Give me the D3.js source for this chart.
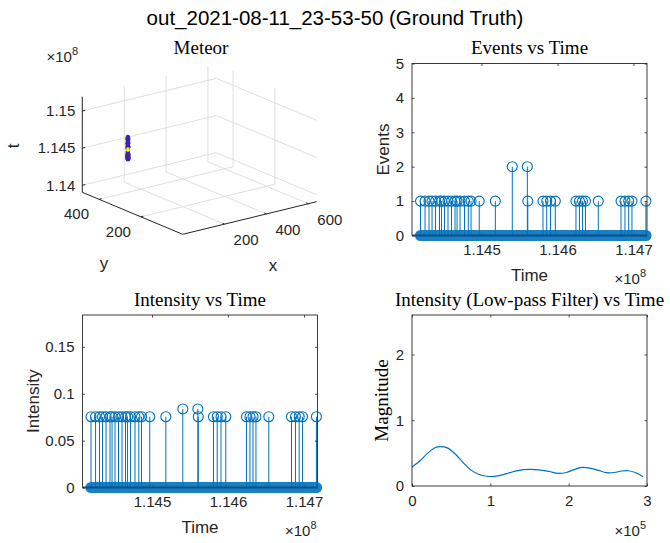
<!DOCTYPE html>
<html>
<head>
<meta charset="utf-8">
<script src="https://cdn.jsdelivr.net/npm/d3@7"></script>
<style>
  body { margin: 0; background: #fff; }
  svg { display: block; }
  .sans { font-family: "Liberation Sans", Arial, Helvetica, sans-serif; }
  .serif { font-family: "Liberation Serif", "Times New Roman", serif; }
</style>
</head>
<body>
<svg id="fig" width="670" height="543"></svg>
<script>
// ---------------- data ----------------
const figureTitle = "out_2021-08-11_23-53-50 (Ground Truth)";

// detected events: timestamp, number of events, summed intensity, pixel position
const eventTime = [
  114419700, 114425700, 114430900, 114434900, 114439500, 114444700, 114447400,
  114451300, 114455900, 114460500, 114465100, 114467800, 114471700, 114477600,
  114482600, 114486200, 114497000, 114518200, 114540500, 114560300, 114560900,
  114580900, 114585800, 114590800, 114597100, 114624300, 114628900, 114632900,
  114636800, 114653700, 114683600, 114688800, 114693700, 114698000, 114716400
];
const eventCount = [
  1, 1, 1, 1, 1, 1, 1, 1, 1, 1, 1, 1, 1, 1, 1, 1, 1, 1, 2, 2, 1,
  1, 1, 1, 1, 1, 1, 1, 1, 1, 1, 1, 1, 1, 1
];
const eventIntensity = [
  0.0755, 0.0755, 0.0755, 0.0755, 0.0755, 0.0755, 0.0755, 0.0755, 0.0755, 0.0755,
  0.0755, 0.0755, 0.0755, 0.0755, 0.0755, 0.0755, 0.0755, 0.0755, 0.0838, 0.0838,
  0.0755, 0.0755, 0.0755, 0.0755, 0.0755, 0.0755, 0.0755, 0.0755, 0.0755, 0.0755,
  0.0755, 0.0755, 0.0755, 0.0755, 0.0755
];
const eventX = [
  101, 101, 102, 101, 100, 101, 101, 102, 101, 101, 100, 101, 101, 102, 101, 101, 101, 100,
  101, 101, 101, 102, 101, 101, 100, 101, 101, 101, 102, 101, 101, 100, 101, 101, 101
];
const eventY = [
  363, 363, 362, 363, 364, 363, 363, 363, 362, 363, 363, 364, 363, 363, 363, 362, 363, 363,
  363, 363, 364, 363, 363, 362, 363, 363, 363, 364, 363, 363, 362, 363, 363, 363, 363
];

// span of the zero-valued samples between events
const sampleStart = 114419700;
const sampleEnd = 114716500;

// time axes
const timeLimits = [114408500, 114717800];
const timeTicks = [114500000, 114600000, 114700000];
const timeTickLabels = ["1.145", "1.146", "1.147"];

const eventLimits = [0, 5];
const eventTicks = [0, 1, 2, 3, 4, 5];

const intensityLimits = [0, 0.184];
const intensityTicks = [0, 0.05, 0.1, 0.15];
const intensityTickLabels = ["0", "0.05", "0.1", "0.15"];

// low-pass filtered intensity
const lowpassTime = [
  0, 10000, 20000, 30000, 36000, 45000, 55000, 65000, 75000, 85000, 95000, 105000,
  115000, 125000, 135000, 150000, 162000, 175000, 187000, 197000, 207000, 217000,
  227000, 238000, 248000, 258000, 268000, 276000, 285000, 295000
];
const lowpassMagnitude = [
  0.29, 0.38, 0.50, 0.585, 0.60, 0.58, 0.49, 0.36, 0.245, 0.178, 0.148, 0.147,
  0.168, 0.203, 0.235, 0.252, 0.245, 0.22, 0.192, 0.205, 0.25, 0.282, 0.272,
  0.237, 0.203, 0.205, 0.228, 0.232, 0.205, 0.142
];
const lowpassLimits = [0, 300000];
const lowpassTicks = [0, 100000, 200000, 300000];
const lowpassTickLabels = ["0", "1", "2", "3"];
const magnitudeLimits = [0, 2.6];
const magnitudeTicks = [0, 1, 2];

// 3-D meteor view
const meteorXLimits = [0, 640];
const meteorYLimits = [0, 480];
const meteorTLimits = [113906000, 115192000];
const meteorXTicks = [200, 400, 600];
const meteorYTicks = [200, 400];
const meteorTTicks = [114000000, 114500000, 115000000];
const meteorTTickLabels = ["1.14", "1.145", "1.15"];

// ---------------- styles ----------------
const AX = "#262626";
const BLUE = "#0072BD";
const GRID = "#dfdfdf";
const TICK_FS = 15;
const LABEL_FS = 17;
const TITLE_FS = 19;
const TL = 2.5;      // tick length
const MR = 5;        // stem marker radius

const svg = d3.select("#fig");

// figure title
svg.append("text").attr("class", "sans")
  .attr("x", 335).attr("y", 25)
  .attr("text-anchor", "middle")
  .attr("font-size", 20.5).attr("fill", "#000")
  .text(figureTitle);

function exponentLabel(g, xRight, yBase, exp) {
  const t = g.append("text").attr("class", "sans")
    .attr("x", xRight).attr("y", yBase)
    .attr("text-anchor", "end")
    .attr("font-size", TICK_FS).attr("fill", AX);
  t.append("tspan").text("\u00d710");
  t.append("tspan").attr("dy", -7).attr("font-size", 11).text(exp);
}

function styleAxis(g) {
  g.select(".domain").remove();
  g.selectAll(".tick line").attr("stroke", AX).attr("stroke-width", 0.8);
  g.selectAll(".tick text").attr("class", "sans").attr("font-size", TICK_FS).attr("fill", AX);
}

// A 2-D axes frame with inward ticks on all four sides
function frame(box, xs, ys, xTicks, xLabels, yTicks, yLabels) {
  const g = svg.append("g");
  const bottom = g.append("g").attr("transform", `translate(0,${box.y + box.h})`)
    .call(d3.axisBottom(xs).tickValues(xTicks)
      .tickFormat((d, i) => xLabels[i]).tickSizeInner(-TL).tickSizeOuter(0).tickPadding(9));
  styleAxis(bottom);
  const top = g.append("g").attr("transform", `translate(0,${box.y})`)
    .call(d3.axisTop(xs).tickValues(xTicks).tickFormat("").tickSizeInner(-TL).tickSizeOuter(0));
  styleAxis(top);
  const left = g.append("g").attr("transform", `translate(${box.x},0)`)
    .call(d3.axisLeft(ys).tickValues(yTicks)
      .tickFormat((d, i) => yLabels[i]).tickSizeInner(-TL).tickSizeOuter(0).tickPadding(8));
  styleAxis(left);
  const right = g.append("g").attr("transform", `translate(${box.x + box.w},0)`)
    .call(d3.axisRight(ys).tickValues(yTicks).tickFormat("").tickSizeInner(-TL).tickSizeOuter(0));
  styleAxis(right);
  g.append("rect").attr("x", box.x).attr("y", box.y)
    .attr("width", box.w).attr("height", box.h)
    .attr("fill", "none").attr("stroke", AX).attr("stroke-width", 0.9);
  return g;
}

function stemPlot(box, ys, values, yTicks, yLabels, title, ylabel, ylabelGap) {
  const xs = d3.scaleLinear().domain(timeLimits).range([box.x, box.x + box.w]);
  const layer = svg.append("g");
  // stems and markers for the events
  layer.selectAll("line.stem").data(eventTime).join("line")
    .attr("x1", d => xs(d)).attr("x2", d => xs(d))
    .attr("y1", ys(0)).attr("y2", (d, i) => ys(values[i]))
    .attr("stroke", BLUE).attr("stroke-width", 1);
  layer.selectAll("circle.mk").data(eventTime).join("circle")
    .attr("cx", d => xs(d)).attr("cy", (d, i) => ys(values[i]))
    .attr("r", MR).attr("fill", "none")
    .attr("stroke", BLUE).attr("stroke-width", 1.1);
  frame(box, xs, ys, timeTicks, timeTickLabels, yTicks, yLabels);
  // dense zero-valued samples along the baseline
  const x0 = xs(sampleStart), x1 = xs(sampleEnd), yb = ys(0), hr = MR + 0.6;
  svg.append("rect")
    .attr("x", x0 - hr).attr("y", yb - hr)
    .attr("width", x1 - x0 + 2 * hr).attr("height", 2 * hr)
    .attr("rx", hr).attr("fill", BLUE).attr("fill-opacity", 0.9);
  svg.append("line")
    .attr("x1", box.x).attr("x2", box.x + box.w).attr("y1", yb).attr("y2", yb)
    .attr("stroke", "#0a4f88").attr("stroke-width", 1.8);
  svg.append("text").attr("class", "serif")
    .attr("x", box.x + box.w / 2).attr("y", box.y - 9.5)
    .attr("text-anchor", "middle").attr("font-size", TITLE_FS).attr("fill", "#000")
    .text(title);
  svg.append("text").attr("class", "sans")
    .attr("x", box.x + box.w / 2).attr("y", box.y + box.h + 45.5)
    .attr("text-anchor", "middle").attr("font-size", LABEL_FS).attr("fill", AX)
    .text("Time");
  svg.append("text").attr("class", "sans")
    .attr("transform", `translate(${box.x - ylabelGap},${box.y + box.h / 2}) rotate(-90)`)
    .attr("text-anchor", "middle").attr("font-size", LABEL_FS).attr("fill", AX)
    .text(ylabel);
  exponentLabel(svg, box.x + box.w - 1, box.y + box.h + 48, "8");
}

// ---------------- Events vs Time ----------------
const boxE = { x: 412, y: 63.5, w: 235, h: 172 };
const yEv = d3.scaleLinear().domain(eventLimits).range([boxE.y + boxE.h, boxE.y]);
stemPlot(boxE, yEv, eventCount, eventTicks, eventTicks.map(String), "Events vs Time", "Events", 23);

// ---------------- Intensity vs Time ----------------
const boxI = { x: 82.5, y: 315, w: 235, h: 172.5 };
const yIn = d3.scaleLinear().domain(intensityLimits).range([boxI.y + boxI.h, boxI.y]);
stemPlot(boxI, yIn, eventIntensity, intensityTicks, intensityTickLabels, "Intensity vs Time", "Intensity", 44);

// ---------------- Low-pass intensity ----------------
const boxL = { x: 412, y: 315, w: 235, h: 171 };
const xLp = d3.scaleLinear().domain(lowpassLimits).range([boxL.x, boxL.x + boxL.w]);
const yLp = d3.scaleLinear().domain(magnitudeLimits).range([boxL.y + boxL.h, boxL.y]);
svg.append("path")
  .datum(lowpassTime.map((t, i) => [t, lowpassMagnitude[i]]))
  .attr("d", d3.line().x(d => xLp(d[0])).y(d => yLp(d[1])).curve(d3.curveCatmullRom))
  .attr("fill", "none").attr("stroke", BLUE).attr("stroke-width", 1.2);
frame(boxL, xLp, yLp, lowpassTicks, lowpassTickLabels, magnitudeTicks, magnitudeTicks.map(String));
svg.append("text").attr("class", "serif")
  .attr("x", boxL.x + boxL.w / 2).attr("y", boxL.y - 9.5)
  .attr("text-anchor", "middle").attr("font-size", TITLE_FS).attr("fill", "#000")
  .text("Intensity (Low-pass Filter) vs Time");
svg.append("text").attr("class", "serif")
  .attr("transform", `translate(${boxL.x - 24},${boxL.y + boxL.h / 2}) rotate(-90)`)
  .attr("text-anchor", "middle").attr("font-size", TITLE_FS).attr("fill", "#000")
  .text("Magnitude");
exponentLabel(svg, boxL.x + boxL.w - 1, boxL.y + boxL.h + 50, "5");

// ---------------- Meteor (3-D) ----------------
const nx = d3.scaleLinear().domain(meteorXLimits).range([0, 1]);
const ny = d3.scaleLinear().domain(meteorYLimits).range([0, 1]);
const nt = d3.scaleLinear().domain(meteorTLimits).range([0, 1]);
// oblique view: front-bottom corner and the screen vectors of each full axis
const view = { ox: 182.7, oy: 234.3, ax: 134, ay: -32.6, bx: -100.4, by: -42, h: 95.6 };
function proj(x, y, t) {
  const a = nx(x), b = ny(y), c = nt(t);
  return [view.ox + a * view.ax + b * view.bx, view.oy + a * view.ay + b * view.by - c * view.h];
}
const [xmin, xmax] = meteorXLimits, [ymin, ymax] = meteorYLimits, [tmin, tmax] = meteorTLimits;
const g3 = svg.append("g");
const seg = (p, q, color, w) => g3.append("line")
  .attr("x1", p[0]).attr("y1", p[1]).attr("x2", q[0]).attr("y2", q[1])
  .attr("stroke", color).attr("stroke-width", w);

// grid on back walls and floor
meteorXTicks.forEach(x => {
  seg(proj(x, ymax, tmin), proj(x, ymax, tmax), GRID, 1);
  seg(proj(x, ymin, tmin), proj(x, ymax, tmin), GRID, 1);
});
meteorYTicks.forEach(y => {
  seg(proj(xmax, y, tmin), proj(xmax, y, tmax), GRID, 1);
  seg(proj(xmin, y, tmin), proj(xmax, y, tmin), GRID, 1);
});
meteorTTicks.forEach(t => {
  seg(proj(xmin, ymax, t), proj(xmax, ymax, t), GRID, 1);
  seg(proj(xmax, ymin, t), proj(xmax, ymax, t), GRID, 1);
});

// axis lines
seg(proj(xmin, ymax, tmin), proj(xmin, ymax, tmax), AX, 1);
seg(proj(xmin, ymin, tmin), proj(xmin, ymax, tmin), AX, 1);
seg(proj(xmin, ymin, tmin), proj(xmax, ymin, tmin), AX, 1);

// tick marks and labels
meteorTTicks.forEach((t, i) => {
  const p = proj(xmin, ymax, t);
  seg(p, proj(xmin + 14, ymax, t), AX, 1);
  g3.append("text").attr("class", "sans")
    .attr("x", p[0] - 7).attr("y", p[1]).attr("dy", "0.35em")
    .attr("text-anchor", "end").attr("font-size", TICK_FS).attr("fill", AX)
    .text(meteorTTickLabels[i]);
});
meteorYTicks.forEach(y => {
  const p = proj(xmin, y, tmin);
  seg(p, proj(xmin + 12, y, tmin), AX, 1);
  g3.append("text").attr("class", "sans")
    .attr("x", p[0] - 22.5).attr("y", p[1] + 14.5).attr("dy", "0.35em")
    .attr("text-anchor", "middle").attr("font-size", TICK_FS).attr("fill", AX)
    .text(y);
});
meteorXTicks.forEach(x => {
  const p = proj(x, ymin, tmin);
  seg(p, proj(x, ymin + 10, tmin), AX, 1);
  g3.append("text").attr("class", "sans")
    .attr("x", p[0] + 21.5).attr("y", p[1] + 16).attr("dy", "0.35em")
    .attr("text-anchor", "middle").attr("font-size", TICK_FS).attr("fill", AX)
    .text(x);
});

// event positions, coloured by event count (higher counts drawn on top)
const countColor = d3.scaleOrdinal().domain([1, 2]).range(["#3e26a8", "#f9fb0e"]);
const order = d3.range(eventTime.length).sort((a, b) => eventCount[a] - eventCount[b]);
g3.selectAll("circle.ev").data(order).join("circle")
  .attr("cx", i => proj(eventX[i], eventY[i], eventTime[i])[0])
  .attr("cy", i => proj(eventX[i], eventY[i], eventTime[i])[1])
  .attr("r", i => eventCount[i] > 1 ? 1.6 : 2.3)
  .attr("fill", i => countColor(eventCount[i]));

// axis names, exponent and title
g3.append("text").attr("class", "sans")
  .attr("transform", "translate(19,146) rotate(-90)")
  .attr("text-anchor", "middle").attr("font-size", LABEL_FS).attr("fill", AX).text("t");
g3.append("text").attr("class", "sans")
  .attr("x", 104).attr("y", 269).attr("text-anchor", "middle")
  .attr("font-size", LABEL_FS).attr("fill", AX).text("y");
g3.append("text").attr("class", "sans")
  .attr("x", 273).attr("y", 271).attr("text-anchor", "middle")
  .attr("font-size", LABEL_FS).attr("fill", AX).text("x");
exponentLabel(g3, 78, 62, "8");
g3.append("text").attr("class", "serif")
  .attr("x", 201).attr("y", 53.5).attr("text-anchor", "middle")
  .attr("font-size", TITLE_FS).attr("fill", "#000").text("Meteor");
</script>
</body>
</html>
